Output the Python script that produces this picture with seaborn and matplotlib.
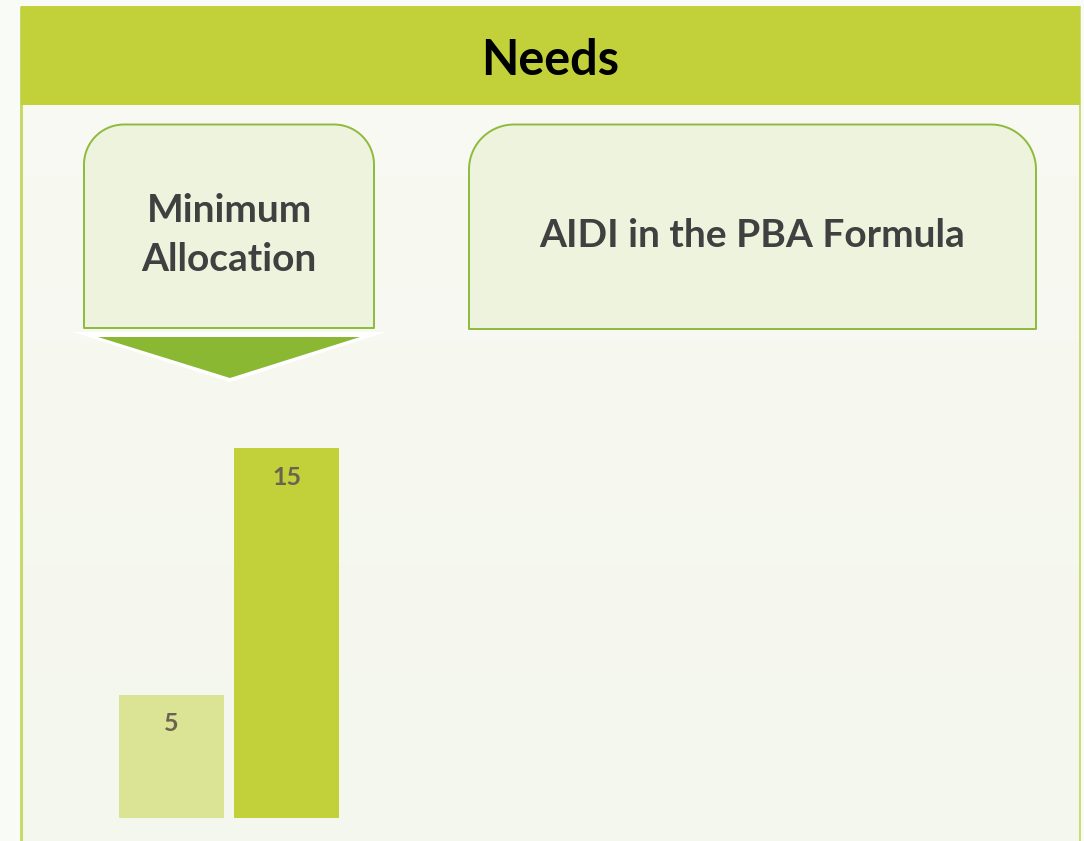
import numpy as np
import matplotlib
matplotlib.use("Agg")
import matplotlib.pyplot as plt
from matplotlib.patches import Rectangle, Polygon
from matplotlib.colors import LinearSegmentedColormap
import pandas as pd
import seaborn as sns

# ---- data ----
categories = ["Minimum", "Total"]
values = [5, 15]
bar_colors = ["#DBE494", "#C2D13A"]
title_text = "Needs"
box1_text = "Minimum\nAllocation"
box2_text = "AIDI in the PBA Formula"

sns.set_theme(style="white")
plt.rcParams['font.family'] = ['Lato', 'DejaVu Sans']

W, H = 1084, 841
fig = plt.figure(figsize=(W / 100, H / 100), dpi=100)
fig.patch.set_facecolor("#F9FBF6")

# background axes in pixel coordinates
bg = fig.add_axes([0, 0, 1, 1])
bg.set_xlim(0, W)
bg.set_ylim(H, 0)
bg.axis("off")

# gradient panel
grad = np.linspace(0, 1, 256).reshape(-1, 1)
cmap = LinearSegmentedColormap.from_list("g", ["#F9FAF3", "#F4F7EE"])
bg.imshow(grad, extent=[21, 1080, H, 6], cmap=cmap, aspect="auto", zorder=0)

# frame lines
bg.plot([21, 21], [6, H], color="#C8D86A", lw=2.2, zorder=1, solid_capstyle="butt")
bg.plot([1079.5, 1079.5], [6, H], color="#C8D86A", lw=1.3, zorder=1, solid_capstyle="butt")

# title band
bg.add_patch(Rectangle((21, 6), 1059, 99, facecolor="#C2D13A", edgecolor="none", zorder=2))
bg.text(550, 60, title_text, ha="center", va="center", fontsize=35, fontweight="bold",
        color="#000000", zorder=3)


def top_rounded_box(x0, y0, x1, y1, r):
    pts = [(x0, y1), (x0, y0 + r)]
    for a in np.linspace(np.pi, 1.5 * np.pi, 20):
        pts.append((x0 + r + r * np.cos(a), y0 + r + r * np.sin(a)))
    for a in np.linspace(1.5 * np.pi, 2 * np.pi, 20):
        pts.append((x1 - r + r * np.cos(a), y0 + r + r * np.sin(a)))
    pts.append((x1, y1))
    pts.append((x0, y1))
    return Polygon(pts, closed=True, facecolor="#EEF3DE", edgecolor="#8DBB3C",
                   lw=1.4, zorder=2, joinstyle="round")


bg.add_patch(top_rounded_box(84, 124.5, 374, 328, 40))
bg.add_patch(top_rounded_box(469, 124.5, 1036, 329, 45))

bg.text(229, 235, box1_text, ha="center", va="center", fontsize=28, fontweight="bold",
        color="#404040", linespacing=1.45, zorder=3)
bg.text(752, 235, box2_text, ha="center", va="center", fontsize=28, fontweight="bold",
        color="#404040", zorder=3)

# arrow triangle
bg.add_patch(Polygon([(73, 332), (386, 332), (230, 382)], closed=True,
                     facecolor="white", edgecolor="none", zorder=2))
bg.add_patch(Polygon([(98, 337), (360, 337), (230, 378)], closed=True,
                     facecolor="#8AB833", edgecolor="none", zorder=3))

# ---- bars axes ----
step_px = 115.0
bar_w = 105.0 / step_px
left_px = 119.0
right_px = 339.0
bottom_px = 818.0
top_px = 448.0
ax = fig.add_axes([left_px / W, (H - bottom_px) / H, (right_px - left_px) / W,
                   (bottom_px - top_px) / H])
df = pd.DataFrame({"cat": categories, "val": values})
sns.barplot(data=df, x="cat", y="val", hue="cat", palette=bar_colors, width=bar_w,
            legend=False, ax=ax, saturation=1, linewidth=0, edgecolor="none")
ax.set_xlim(-bar_w / 2, 1 + bar_w / 2)
ax.set_ylim(0, max(values))
ax.axis("off")
ax.patch.set_alpha(0)
for i, v in enumerate(values):
    ax.annotate(str(v), (i, v), xytext=(0, -21), textcoords="offset points",
                ha="center", va="center", fontsize=18, fontweight="bold",
                color="#6B6350")

fig.savefig("out.png", dpi=100, facecolor=fig.get_facecolor())
